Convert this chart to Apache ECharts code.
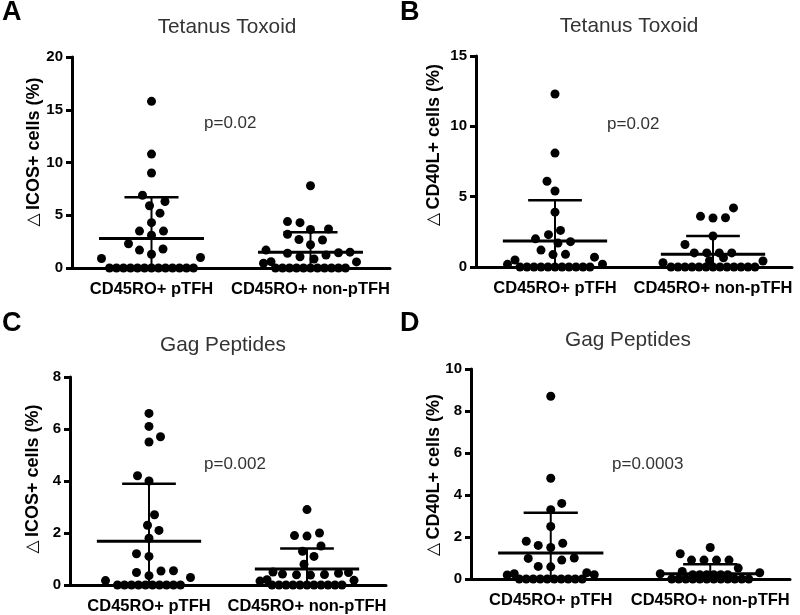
<!DOCTYPE html>
<html><head><meta charset="utf-8">
<script src="https://cdn.jsdelivr.net/npm/echarts@6/dist/echarts.min.js"></script>
<style>html,body{margin:0;padding:0;background:#fff}#c{width:800px;height:615px}</style>
</head><body><div id="c"></div>
<script>
// ---------- data ----------
const categories = ['CD45RO+ pTFH', 'CD45RO+ non-pTFH'];
const panelLetters = ['A', 'B', 'C', 'D'];
const panelTitles = ['Tetanus Toxoid', 'Tetanus Toxoid', 'Gag Peptides', 'Gag Peptides'];
const yAxisNames = ['ICOS+ cells (%)', 'CD40L+ cells (%)', 'ICOS+ cells (%)', 'CD40L+ cells (%)'];
const pValueLabels = ['p=0.02', 'p=0.02', 'p=0.002', 'p=0.0003'];
const yMaxValues = [20, 15, 8, 10];
const yTickSteps = [5, 5, 2, 2];

// A: Tetanus Toxoid, ICOS+
const aPTFH = [15.8, 10.8, 9.0, 6.9, 6.3, 5.9, 5.2, 4.3, 3.5, 3.5, 3.1, 2.3, 1.8, 1.7, 1.3, 1.0, 0.9,
  0, 0, 0, 0, 0, 0, 0, 0, 0, 0, 0, 0, 0];
const aNonPTFH = [7.8, 4.4, 4.3, 3.7, 3.65, 3.2, 2.7, 2.65, 2.2, 1.7, 1.5, 1.45, 1.4, 1.23, 1.07, 0.85, 0.6, 0.58, 0.45,
  0, 0, 0, 0, 0, 0, 0, 0, 0, 0, 0];
const aMean = [2.8, 1.5];
const aSdUpper = [6.7, 3.4];

// B: Tetanus Toxoid, CD40L+
const bPTFH = [12.3, 8.1, 6.1, 5.4, 3.9, 2.6, 2.3, 2.0, 1.8, 1.7, 1.2, 0.9, 0.88, 0.7, 0.5, 0.2, 0.19,
  0, 0, 0, 0, 0, 0, 0, 0, 0, 0, 0];
const bNonPTFH = [4.2, 3.6, 3.5, 3.48, 2.2, 1.6, 1.0, 1.0, 1.0, 1.0, 0.65, 0.45, 0.43, 0.3,
  0, 0, 0, 0, 0, 0, 0, 0, 0, 0, 0, 0, 0];
const bMean = [1.85, 0.9];
const bSdUpper = [4.75, 2.2];

// C: Gag Peptides, ICOS+
const cPTFH = [6.6, 6.1, 5.7, 5.5, 4.2, 4.0, 2.7, 2.3, 2.1, 1.8, 1.2, 1.1, 0.55, 0.54, 0.48, 0.36, 0.29, 0.17,
  0, 0, 0, 0, 0, 0, 0, 0, 0, 0];
const cNonPTFH = [2.9, 2.0, 1.9, 1.88, 1.5, 1.3, 1.1, 0.8, 0.5, 0.48, 0.45, 0.42, 0.4, 0.39, 0.38, 0.2, 0.18, 0.15,
  0, 0, 0, 0, 0, 0, 0, 0, 0, 0, 0];
const cMean = [1.68, 0.62];
const cSdUpper = [3.89, 1.4];

// D: Gag Peptides, CD40L+
const dPTFH = [8.7, 4.8, 3.6, 3.3, 2.5, 1.8, 1.7, 1.6, 1.5, 1.0, 0.98, 0.9, 0.6, 0.58, 0.3, 0.25, 0.2, 0.19,
  0, 0, 0, 0, 0, 0, 0, 0, 0, 0];
const dNonPTFH = [1.5, 1.2, 0.9, 0.9, 0.9, 0.9, 0.52, 0.36, 0.3, 0.25, 0.2, 0.2, 0.2, 0.2, 0.2, 0.2,
  0, 0, 0, 0, 0, 0, 0, 0, 0, 0, 0, 0];
const dMean = [1.24, 0.25];
const dSdUpper = [3.15, 0.7];

const panelGroups = [[aPTFH, aNonPTFH], [bPTFH, bNonPTFH], [cPTFH, cNonPTFH], [dPTFH, dNonPTFH]];
const panelMeans = [aMean, bMean, cMean, dMean];
const panelSdUpper = [aSdUpper, bSdUpper, cSdUpper, dSdUpper];

// ---------- layout (styles) ----------
const FONT = '"Liberation Sans", Arial, Helvetica, sans-serif';
const gridRects = [
  { left: 72, top: 57, width: 318, height: 211 },
  { left: 476, top: 56, width: 316, height: 211 },
  { left: 70, top: 377, width: 316, height: 209 },
  { left: 471, top: 369, width: 319, height: 210 }
];
const letterPos = [[2, 13], [400, 13], [2, 324], [400, 324]];
const titlePos = [[227, 27], [629, 26], [223, 345], [628, 340]];
const pPos = [[204, 123], [607, 124], [204, 464], [612, 464]];
const yNamePos = [[34, 152], [434, 145], [33, 479], [434, 475]];
const MEAN_HALF = 0.33, CAP_HALF = 0.17, DOT = 9;
const SWARM_D = 12.5, TIE_STEP = 7, SWARM_W = 50;

const chart = echarts.init(document.getElementById('c'));

const grid = [], xAxis = [], yAxis = [], series = [], graphic = [];
for (let i = 0; i < 4; i++) {
  grid.push(Object.assign({ containLabel: false }, gridRects[i]));
  xAxis.push({
    type: 'category', gridIndex: i, data: categories, boundaryGap: true,
    axisLine: { onZero: false, lineStyle: { color: '#000', width: 3 } },
    axisTick: { alignWithLabel: true, length: 6, lineStyle: { color: '#000', width: 2.5 } },
    axisLabel: { interval: 0, color: '#000', fontWeight: 'bold', fontSize: 16.5, fontFamily: FONT, margin: 13 },
    splitLine: { show: false }
  });
  xAxis.push({ type: 'value', gridIndex: i, min: -0.5, max: 1.5, show: false });
  yAxis.push({
    type: 'value', gridIndex: i, min: 0, max: yMaxValues[i], interval: yTickSteps[i],
    axisLine: { show: true, onZero: false, lineStyle: { color: '#000', width: 3 } },
    axisTick: { show: true, length: 6, lineStyle: { color: '#000', width: 3 } },
    axisLabel: { color: '#000', fontWeight: 'bold', fontSize: 15, fontFamily: FONT, margin: 9 },
    splitLine: { show: false }
  });
  series.push({
    type: 'scatter', xAxisIndex: 2 * i + 1, yAxisIndex: i, symbol: 'circle', symbolSize: DOT,
    itemStyle: { color: '#000', opacity: 1 }, data: [], z: 2, silent: true
  });
  series.push({
    type: 'custom', xAxisIndex: 2 * i + 1, yAxisIndex: i, z: 3, silent: true,
    data: [0, 1].map(g => [g, panelMeans[i][g], panelSdUpper[i][g]]),
    renderItem: (params, api) => {
      const g = api.value(0), m = api.value(1), up = api.value(2);
      const lo = Math.max(0, 2 * m - up);
      const L = (a, b, w) => ({ type: 'line', shape: { x1: a[0], y1: a[1], x2: b[0], y2: b[1] },
        style: { stroke: '#000', lineWidth: w } });
      return { type: 'group', children: [
        L(api.coord([g - MEAN_HALF, m]), api.coord([g + MEAN_HALF, m]), 3),
        L(api.coord([g - CAP_HALF, up]), api.coord([g + CAP_HALF, up]), 2.5),
        L(api.coord([g, lo]), api.coord([g, up]), 2)
      ] };
    }
  });
  graphic.push({ type: 'text', x: letterPos[i][0], y: letterPos[i][1],
    style: { text: panelLetters[i], font: 'bold 27px ' + FONT, fill: '#000', align: 'left', verticalAlign: 'middle' } });
  graphic.push({ type: 'text', x: titlePos[i][0], y: titlePos[i][1],
    style: { text: panelTitles[i], font: '20.8px ' + FONT, fill: '#333', align: 'center', verticalAlign: 'middle' } });
  graphic.push({ type: 'text', x: pPos[i][0], y: pPos[i][1],
    style: { text: pValueLabels[i], font: '17px ' + FONT, fill: '#333', align: 'left', verticalAlign: 'middle' } });
  graphic.push({ type: 'text', x: yNamePos[i][0], y: yNamePos[i][1], rotation: Math.PI / 2,
    style: { text: '{t|△} {b|' + yAxisNames[i] + '}', align: 'center', verticalAlign: 'middle',
      rich: {
        t: { fontFamily: '"DejaVu Sans", sans-serif', fontSize: 17, color: '#777' },
        b: { fontFamily: FONT, fontWeight: 'bold', fontSize: 18, color: '#4a4a4a' }
      } } });
}

chart.setOption({ animation: false, backgroundColor: '#fff', grid, xAxis, yAxis, series, graphic });

// ---------- dot placement (beeswarm in pixel space via the chart's own scales) ----------
function swarm(vals, ys) {
  const n = vals.length, dx = new Array(n), placed = [];
  const counts = {};
  vals.forEach(v => { counts[v] = (counts[v] || 0) + 1; });
  const order = vals.map((v, i) => i).sort((p, q) => vals[p] - vals[q]);
  const doneTies = new Set();
  let side = -1;
  order.forEach(i => {
    const v = vals[i], y = ys[i];
    if (counts[v] >= 3) {
      if (doneTies.has(v)) return;
      doneTies.add(v);
      const idx = order.filter(j => vals[j] === v);
      const m = idx.length, s = m >= 6 ? TIE_STEP : SWARM_D;
      idx.forEach((j, k) => { dx[j] = (k - (m - 1) / 2) * s; placed.push({ x: dx[j], y: ys[j] }); });
      return;
    }
    const score = x => placed.reduce((mn, p) => Math.min(mn, Math.hypot(x - p.x, y - p.y) / SWARM_D), Infinity);
    let chosen = null, best = 0, bestScore = -1;
    const cands = [0];
    for (let k = 0.5; k <= SWARM_W; k += 0.5) cands.push(side * k, -side * k);
    for (const x of cands) {
      const sc = score(x);
      if (sc >= 1) { chosen = x; break; }
      if (sc > bestScore + 1e-9) { bestScore = sc; best = x; }
    }
    if (chosen === null) chosen = best;
    if (chosen !== 0) side = chosen > 0 ? -1 : 1;
    dx[i] = chosen;
    placed.push({ x: chosen, y });
  });
  return dx;
}

const update = [];
for (let i = 0; i < 4; i++) {
  const si = 2 * i;
  const p0 = chart.convertToPixel({ seriesIndex: si }, [0, 0]);
  const p1 = chart.convertToPixel({ seriesIndex: si }, [1, 0]);
  const pxPerUnit = p1[0] - p0[0];
  const data = [];
  panelGroups[i].forEach((vals, g) => {
    const ys = vals.map(v => chart.convertToPixel({ seriesIndex: si }, [g, v])[1]);
    const dxs = swarm(vals, ys);
    vals.forEach((v, k) => data.push([g + dxs[k] / pxPerUnit, v]));
  });
  update.push({ data });
  update.push({});
}
chart.setOption({ series: update });
</script>
</body></html>
